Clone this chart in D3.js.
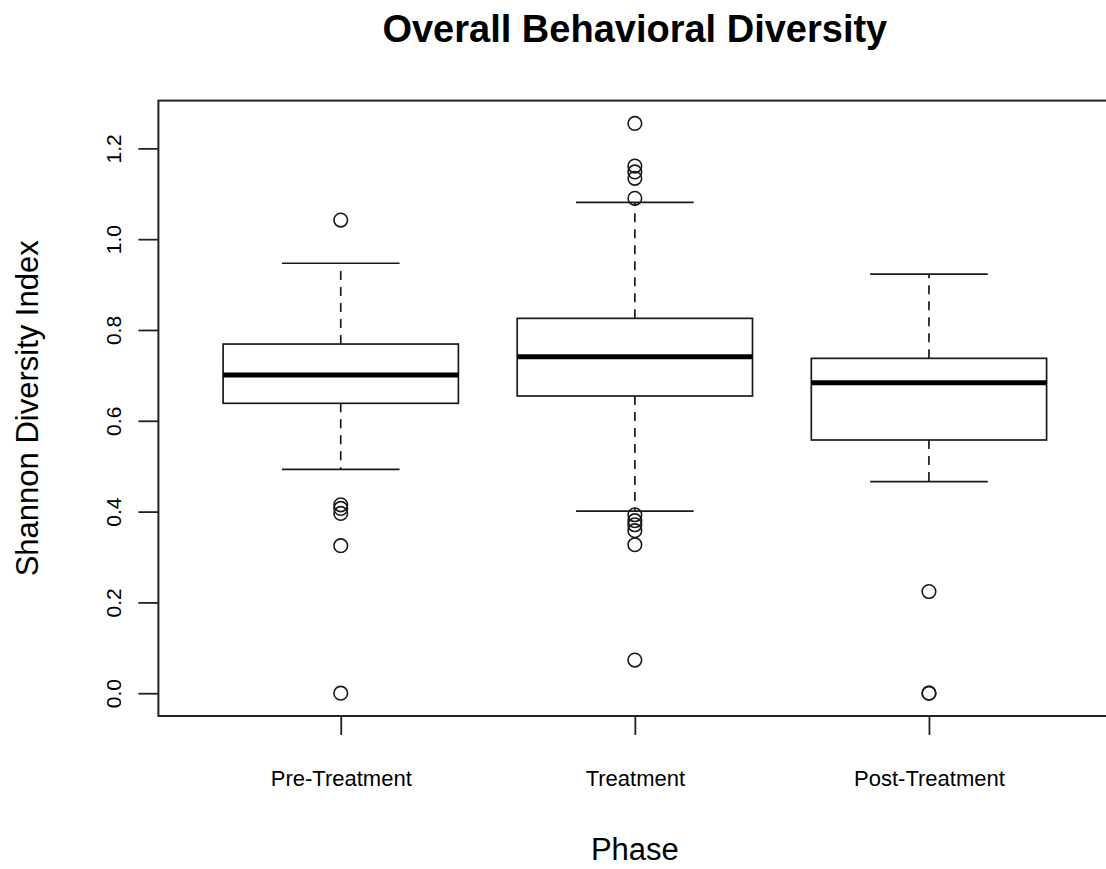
<!DOCTYPE html>
<html>
<head>
<meta charset="utf-8">
<script src="https://cdn.jsdelivr.net/npm/d3@7"></script>
<style>
  html, body { margin: 0; padding: 0; background: #fff; }
  svg { display: block; }
  text { font-family: "Liberation Sans", Arial, Helvetica, sans-serif; fill: #000; }
</style>
</head>
<body>
<svg id="chart" width="1106" height="869"></svg>
<script>
// ---- data ----
const phases = ["Pre-Treatment", "Treatment", "Post-Treatment"];
const whiskerLow  = [0.493, 0.401, 0.466];
const q1          = [0.6385, 0.6546, 0.5577];
const medians     = [0.7008, 0.741, 0.6838];
const q3          = [0.769, 0.8256, 0.7375];
const whiskerHigh = [0.947, 1.081, 0.923];
const outliersPre  = [1.042, 0.415, 0.407, 0.396, 0.325, 0.0];
const outliersTrt  = [1.255, 1.161, 1.148, 1.134, 1.090, 0.393, 0.380, 0.371, 0.358, 0.327, 0.073];
const outliersPost = [0.224, 0.0, 0.0];
const yTicks = [0.0, 0.2, 0.4, 0.6, 0.8, 1.0, 1.2];

const titleText = "Overall Behavioral Diversity";
const xLabel = "Phase";
const yLabel = "Shannon Diversity Index";

const outliers = [outliersPre, outliersTrt, outliersPost];
const boxes = phases.map((p, i) => ({
  phase: p, pos: i + 1,
  lo: whiskerLow[i], q1: q1[i], med: medians[i], q3: q3[i], hi: whiskerHigh[i],
  out: outliers[i]
}));

// ---- layout ----
const svg = d3.select("#chart");
const plot = { left: 158.4, right: 1111.3, top: 100.6, bottom: 716 };

const x = d3.scaleLinear().domain([0.38, 3.62]).range([plot.left, plot.right]);
const y = d3.scaleLinear().domain([-0.0502, 1.3052]).range([plot.bottom, plot.top]);

const boxW = 0.8, capW = 0.4;
const ink = "#1a1a1a";

// boxes
const g = svg.append("g");
boxes.forEach(b => {
  const cx = x(b.pos);
  // whiskers (dashed)
  g.append("line").attr("x1", cx).attr("x2", cx).attr("y1", y(b.q3)).attr("y2", y(b.hi))
    .attr("stroke", ink).attr("stroke-width", 1.7).attr("stroke-dasharray", "9,7");
  g.append("line").attr("x1", cx).attr("x2", cx).attr("y1", y(b.q1)).attr("y2", y(b.lo))
    .attr("stroke", ink).attr("stroke-width", 1.7).attr("stroke-dasharray", "9,7");
  // caps
  [b.hi, b.lo].forEach(v => {
    g.append("line").attr("x1", x(b.pos - capW / 2)).attr("x2", x(b.pos + capW / 2))
      .attr("y1", y(v)).attr("y2", y(v)).attr("stroke", ink).attr("stroke-width", 1.7);
  });
  // box
  g.append("rect").attr("x", x(b.pos - boxW / 2)).attr("y", y(b.q3))
    .attr("width", x(b.pos + boxW / 2) - x(b.pos - boxW / 2)).attr("height", y(b.q1) - y(b.q3))
    .attr("fill", "none").attr("stroke", ink).attr("stroke-width", 1.7);
  // median
  g.append("line").attr("x1", x(b.pos - boxW / 2)).attr("x2", x(b.pos + boxW / 2))
    .attr("y1", y(b.med)).attr("y2", y(b.med)).attr("stroke", "#000").attr("stroke-width", 5);
  // outliers
  g.selectAll(null).data(b.out).enter().append("circle")
    .attr("cx", cx).attr("cy", d => y(d)).attr("r", 6.8)
    .attr("fill", "none").attr("stroke", ink).attr("stroke-width", 1.6);
});

// frame
svg.append("rect").attr("x", plot.left).attr("y", plot.top)
  .attr("width", plot.right - plot.left).attr("height", plot.bottom - plot.top)
  .attr("fill", "none").attr("stroke", "#222").attr("stroke-width", 2);

// y axis
const yAxis = svg.append("g").attr("transform", `translate(${plot.left},0)`)
  .call(d3.axisLeft(y).tickValues(yTicks).tickSize(20).tickFormat(d3.format(".1f")));
yAxis.select(".domain").remove();
yAxis.selectAll(".tick line").attr("stroke", "#222").attr("stroke-width", 1.8);
yAxis.selectAll(".tick text")
  .attr("x", null).attr("dy", null)
  .attr("transform", "translate(-45,0) rotate(-90)")
  .attr("text-anchor", "middle").attr("dominant-baseline", "central")
  .style("font-size", "21px").style("font-family", "'Liberation Sans', Arial, sans-serif")
  .attr("fill", "#111");

// x axis
const xAxis = svg.append("g").attr("transform", `translate(0,${plot.bottom})`)
  .call(d3.axisBottom(x).tickValues([1, 2, 3]).tickSize(19).tickFormat(d => phases[d - 1]));
xAxis.select(".domain").remove();
xAxis.selectAll(".tick line").attr("stroke", "#222").attr("stroke-width", 1.8);
xAxis.selectAll(".tick text")
  .attr("y", 70).attr("dy", null)
  .style("font-size", "22px").style("font-family", "'Liberation Sans', Arial, sans-serif")
  .attr("fill", "#111");

// title
svg.append("text").attr("x", (plot.left + plot.right) / 2).attr("y", 42)
  .attr("text-anchor", "middle").style("font-size", "38px").style("font-weight", "bold")
  .text(titleText);

// axis labels
svg.append("text").attr("x", (plot.left + plot.right) / 2).attr("y", 860)
  .attr("text-anchor", "middle").style("font-size", "31px").attr("fill", "#111")
  .text(xLabel);
svg.append("text").attr("transform", `translate(38,${(plot.top + plot.bottom) / 2}) rotate(-90)`)
  .attr("text-anchor", "middle").style("font-size", "31px").attr("fill", "#111")
  .text(yLabel);
</script>
</body>
</html>
